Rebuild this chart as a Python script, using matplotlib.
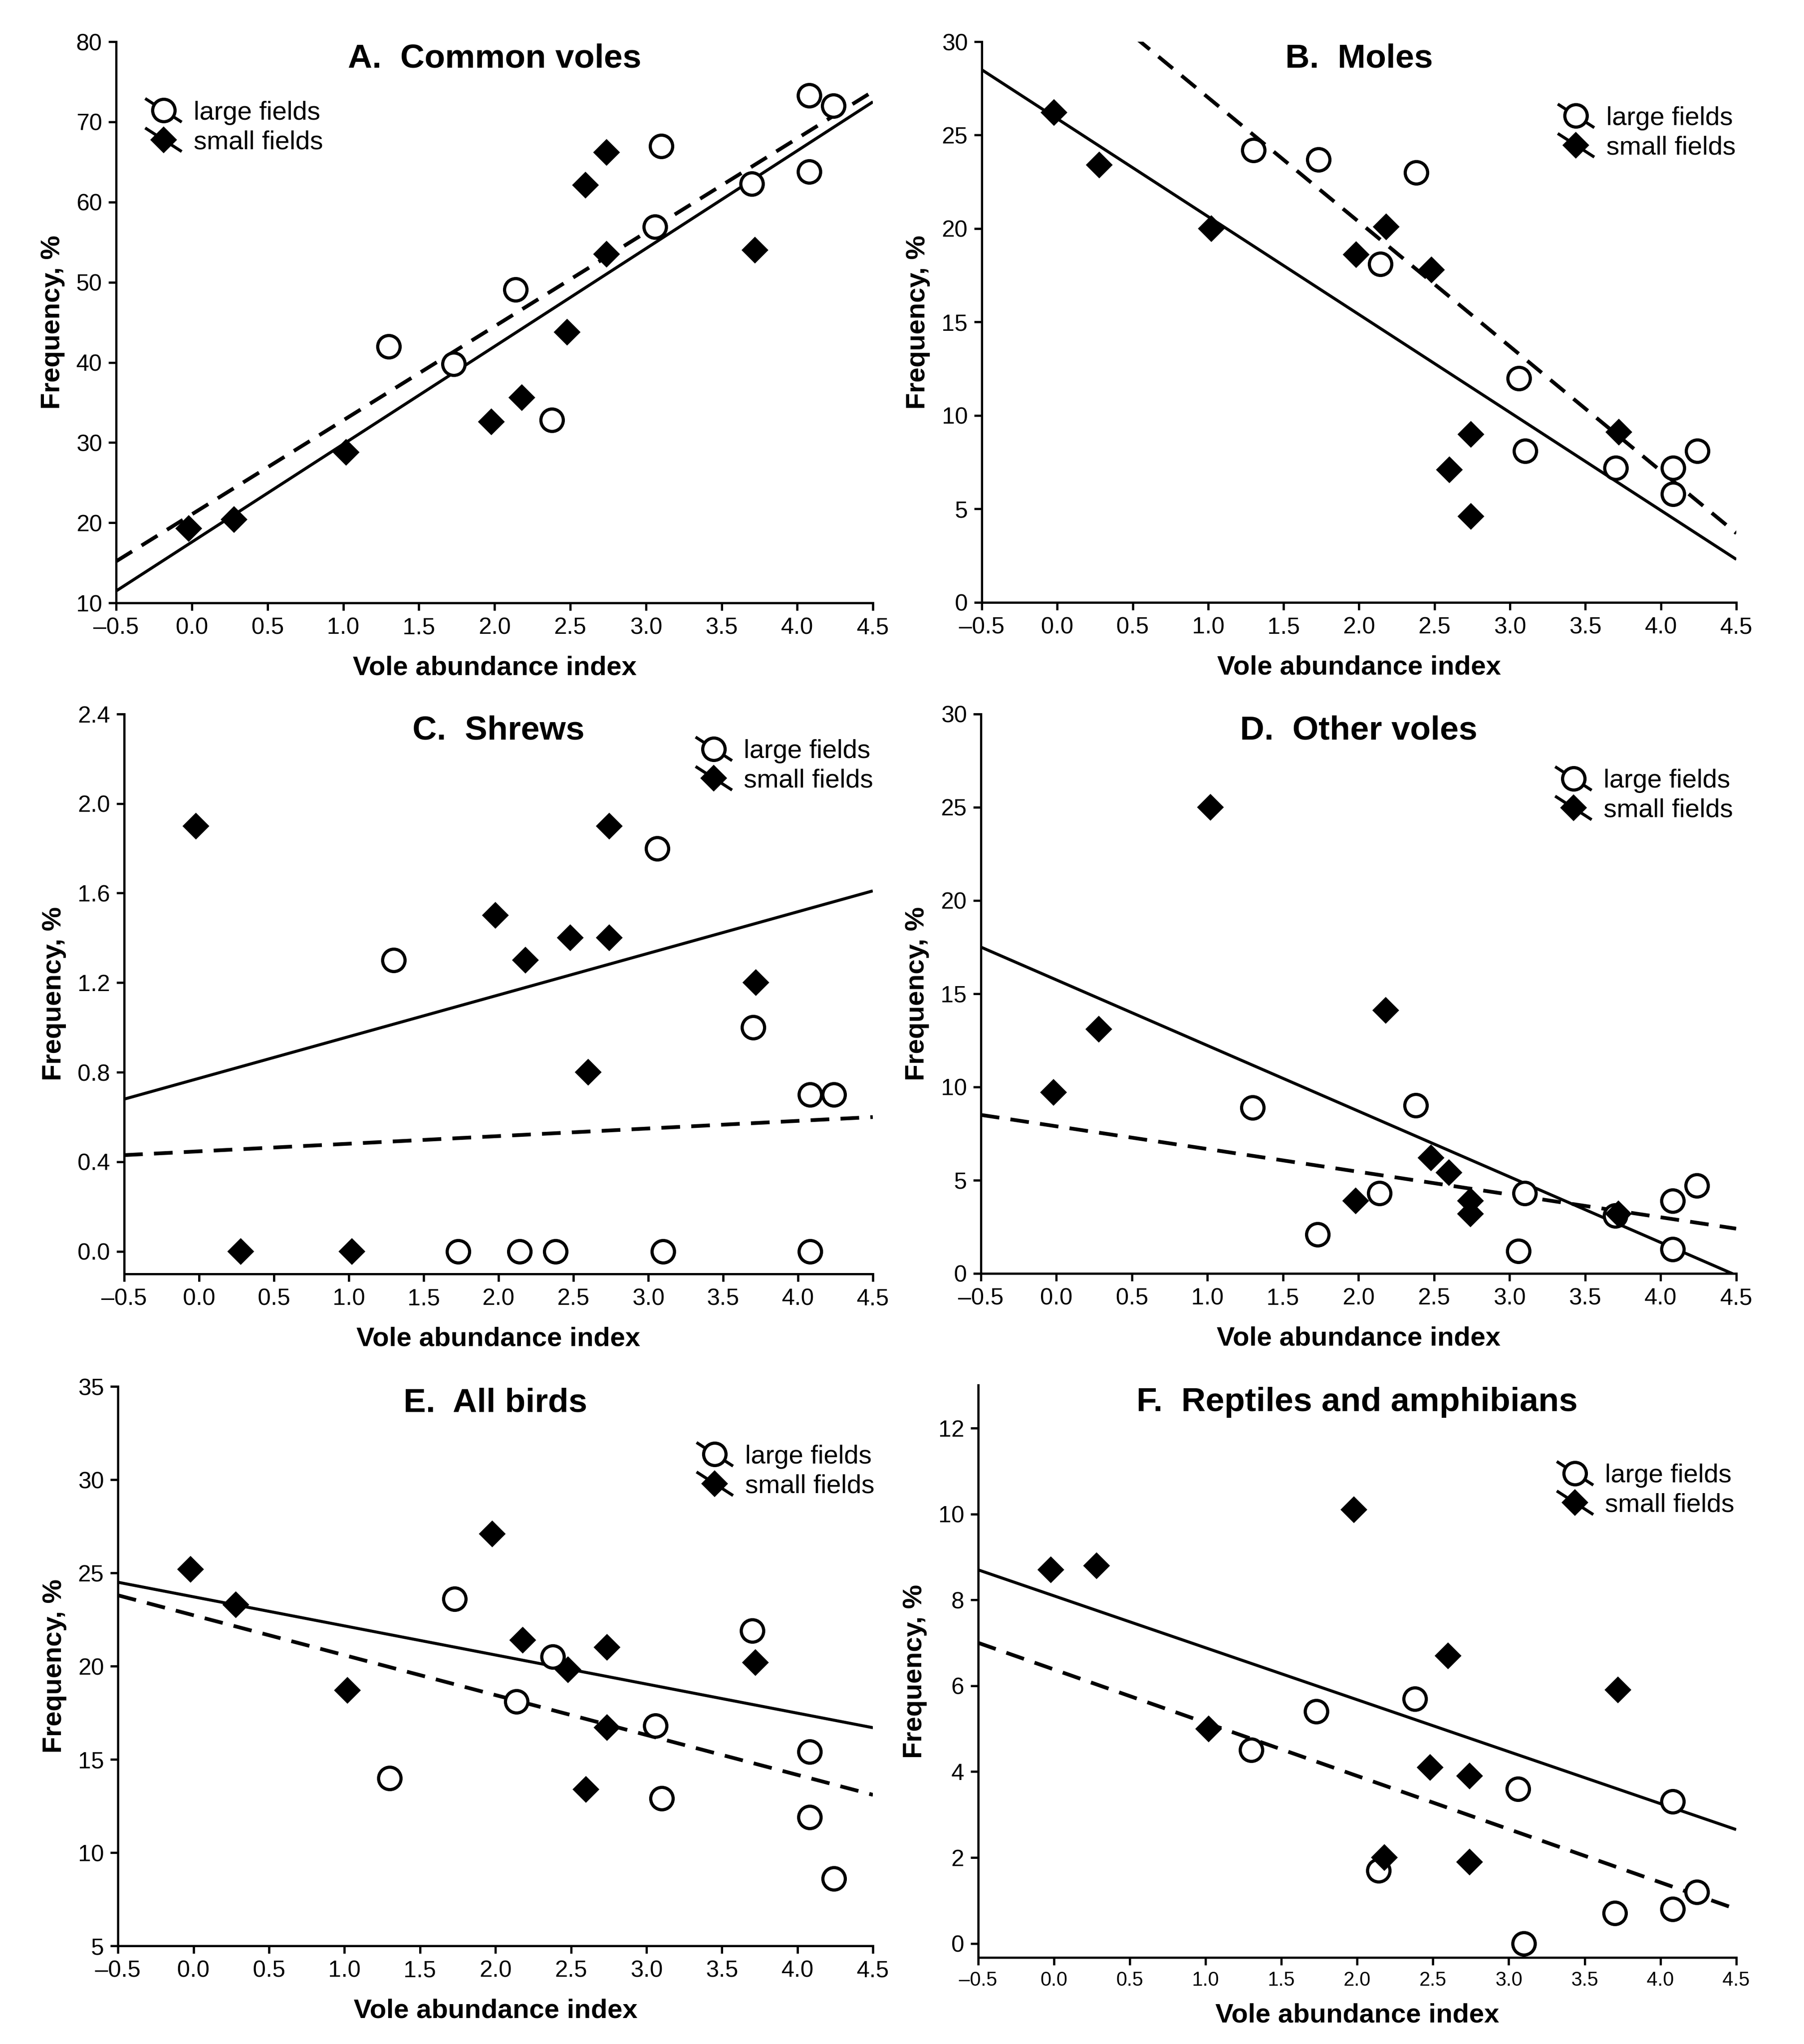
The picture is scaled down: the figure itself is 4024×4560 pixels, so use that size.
import numpy as np
import matplotlib
matplotlib.use("Agg")
import matplotlib.pyplot as plt
from matplotlib.legend_handler import HandlerBase
from matplotlib.lines import Line2D

plt.rcParams['font.family'] = ['Liberation Sans', 'DejaVu Sans']

# vole abundance index (shared by all panels)
x_large = [1.30, 1.73, 2.14, 2.38, 3.06, 3.10, 3.70, 4.08, 4.08, 4.24]
x_small = [-0.02, 0.28, 1.02, 1.98, 2.18, 2.48, 2.60, 2.74, 2.74, 3.72]

titles = ["A.  Common voles", "B.  Moles", "C.  Shrews", "D.  Other voles",
          "E.  All birds", "F.  Reptiles and amphibians"]

# frequency, % (large fields = open circles, small fields = filled diamonds)
y_large_A = [42.0, 39.8, 49.1, 32.8, 56.9, 67.0, 62.3, 73.3, 63.8, 72.0]
y_small_A = [19.3, 20.4, 28.8, 32.6, 35.6, 43.8, 62.1, 66.2, 53.5, 54.0]
y_large_B = [24.2, 23.7, 18.1, 23.0, 12.0, 8.1, 7.2, 7.2, 5.8, 8.1]
y_small_B = [26.2, 23.4, 20.0, 18.6, 20.1, 17.8, 7.1, 9.0, 4.6, 9.1]
y_large_C = [1.3, 0.0, 0.0, 0.0, 1.8, 0.0, 1.0, 0.7, 0.0, 0.7]
y_small_C = [1.9, 0.0, 0.0, 1.5, 1.3, 1.4, 0.8, 1.9, 1.4, 1.2]
y_large_D = [8.9, 2.1, 4.3, 9.0, 1.2, 4.3, 3.1, 3.9, 1.3, 4.7]
y_small_D = [9.7, 13.1, 25.0, 3.9, 14.1, 6.2, 5.4, 3.9, 3.2, 3.2]
y_large_E = [14.0, 23.6, 18.1, 20.5, 16.8, 12.9, 21.9, 15.4, 11.9, 8.6]
y_small_E = [25.2, 23.3, 18.7, 27.1, 21.4, 19.8, 13.4, 21.0, 16.7, 20.2]
y_large_F = [4.5, 5.4, 1.7, 5.7, 3.6, 0.0, 0.7, 3.3, 0.8, 1.2]
y_small_F = [8.7, 8.8, 5.0, 10.1, 2.0, 4.1, 6.7, 3.9, 1.9, 5.9]

# fitted lines: values at x = -0.5 and x = 4.5
line_x = [-0.5, 4.5]
fit_large = [[15.2, 73.8], [37.0, 3.7], [0.43, 0.60], [8.5, 2.4], [23.8, 13.1], [7.0, 0.8]]
fit_small = [[11.5, 72.5], [28.5, 2.3], [0.68, 1.61], [17.5, -0.1], [24.5, 16.7], [8.7, 2.65]]

ylims = [(10, 80), (0, 30), (-0.1, 2.4), (0, 30), (5, 35), (-0.33, 13)]
yticks = [np.arange(10, 81, 10), np.arange(0, 31, 5), np.arange(0, 2.41, 0.4),
          np.arange(0, 31, 5), np.arange(5, 36, 5), np.arange(0, 13, 2)]
yfmt = ["%d", "%d", "%.1f", "%d", "%d", "%d"]

ys_large = [y_large_A, y_large_B, y_large_C, y_large_D, y_large_E, y_large_F]
ys_small = [y_small_A, y_small_B, y_small_C, y_small_D, y_small_E, y_small_F]

# axes rectangles [left, bottom, width, height] in figure fraction
rects = [[0.0644, 0.7050, 0.4195, 0.2746], [0.5442, 0.7053, 0.4183, 0.2743],
         [0.0688, 0.3768, 0.4150, 0.2739], [0.5437, 0.3770, 0.4187, 0.2737],
         [0.0654, 0.0480, 0.4185, 0.2737], [0.5422, 0.0423, 0.4202, 0.2800]]
leg_pos = [(0.04, 0.895), (0.765, 0.885), (0.765, 0.955), (0.762, 0.902), (0.768, 0.896), (0.765, 0.863)]
xtick_size = [12.5, 12.5, 12.5, 12.5, 12.5, 10.5]
xlab_pad = [9, 9, 9, 9, 9, 7]


class SlantHandler(HandlerBase):
    def create_artists(self, legend, orig, xdescent, ydescent, width, height, fontsize, trans):
        cx = width / 2 - xdescent
        cy = height / 2 - ydescent
        ln = Line2D([cx - width * 0.5, cx + width * 0.5], [cy + height * 0.6, cy - height * 0.6],
                    color='black', lw=1.6, transform=trans)
        mk = Line2D([cx], [cy], marker=orig.get_marker(), markersize=orig.get_markersize(),
                    markerfacecolor=orig.get_markerfacecolor(), markeredgecolor='black',
                    markeredgewidth=orig.get_markeredgewidth(), linestyle='none', transform=trans)
        return [ln, mk]


fig = plt.figure(figsize=(4024 / 300, 4560 / 300), dpi=300)

xt = np.arange(-0.5, 4.51, 0.5)
for i in range(6):
    ax = fig.add_axes(rects[i])
    ax.plot(line_x, fit_small[i], color='black', lw=1.6, solid_capstyle='butt')
    ax.plot(line_x, fit_large[i], color='black', lw=2.0, linestyle=(0, (5, 3)))
    h1, = ax.plot(x_large, ys_large[i], 'o', ms=12, mfc='white', mec='black', mew=1.7,
                  label='large fields', zorder=3)
    h2, = ax.plot(x_small, ys_small[i], 'D', ms=9.3, mfc='black', mec='black', mew=1,
                  label='small fields', zorder=3)
    ax.set_xlim(-0.5, 4.5)
    ax.set_ylim(*ylims[i])
    ax.set_xticks(xt)
    ax.set_xticklabels([("%.1f" % v).replace("-", "\u2013") for v in xt])
    ax.set_yticks(yticks[i])
    ax.set_yticklabels([yfmt[i] % v for v in yticks[i]])
    for s in ['top', 'right']:
        ax.spines[s].set_visible(False)
    for s in ['left', 'bottom']:
        ax.spines[s].set_linewidth(1.2)
    ax.tick_params(direction='out', length=4, width=1.2, labelsize=12.5)
    ax.tick_params(axis='x', labelsize=xtick_size[i])
    ax.set_xlabel("Vole abundance index", fontsize=14.5, fontweight='bold', labelpad=xlab_pad[i])
    ax.set_ylabel("Frequency, %", fontsize=14.5, fontweight='bold', labelpad=6)
    ax.text(0.5, 0.97, titles[i], transform=ax.transAxes, ha='center', va='center',
            fontsize=18, fontweight='bold')
    ax.legend(handles=[h1, h2], loc='upper left', bbox_to_anchor=leg_pos[i], frameon=False,
              fontsize=14, handlelength=1.3, handletextpad=0.5, labelspacing=0.2,
              borderpad=0, borderaxespad=0,
              handler_map={h1: SlantHandler(), h2: SlantHandler()})

fig.savefig("out.png", dpi=300)
